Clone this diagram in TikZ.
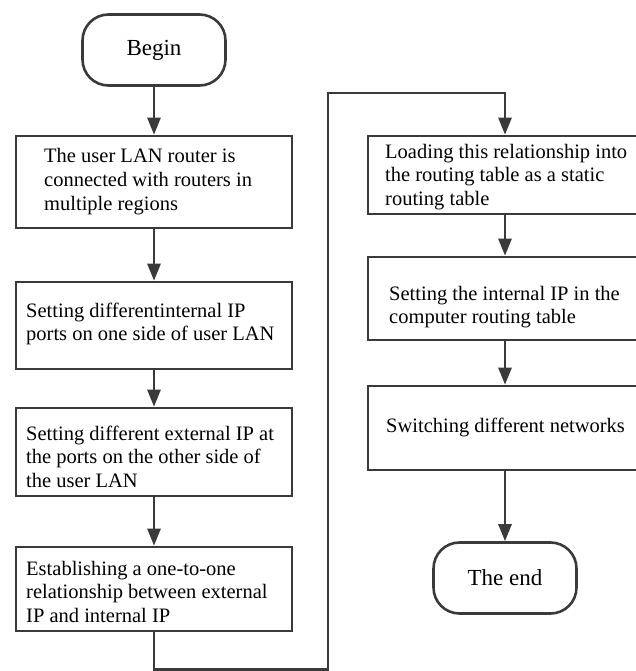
\documentclass[tikz,border=0pt]{standalone}
\usepackage{fontspec}
\setmainfont{Liberation Serif}
\usetikzlibrary{arrows.meta}
\definecolor{linegray}{HTML}{3A3A3A}
% multi-line step text, baseline of the node = baseline of the first line
\newcommand\steptext[1]{\parbox[t]{300pt}{\raggedright\fontsize{20.5pt}{23.7pt}\selectfont #1}}
\begin{document}
\begin{tikzpicture}[x=1pt,y=-1pt,
  stepbox/.style={draw=linegray, line width=2.6pt, minimum width=276pt, inner sep=0pt},
  termbox/.style={draw=linegray, line width=2.6pt, rounded corners=26pt,
    minimum width=143pt, minimum height=71pt, inner sep=0pt,
    font=\fontsize{23pt}{27pt}\selectfont},
  steptxt/.style={anchor=base west, inner sep=0pt, text=black},
  flow/.style={draw=linegray, line width=2.6pt, -{Triangle[length=17pt,width=13pt]}}]
\useasboundingbox (0,0) rectangle (636,671);
\clip (0,0) rectangle (636,671);

% left column
\node[termbox] (begin) at (154,50) {Begin};
\node[stepbox, minimum height=92pt] (b1) at (154,182) {};
\node[stepbox, minimum height=87pt] (b2) at (154,325.5) {};
\node[stepbox, minimum height=88pt] (b3) at (154,452) {};
\node[stepbox, minimum height=84pt] (b4) at (154,589) {};

% right column
\node[stepbox, minimum width=274pt, minimum height=78pt] (b5) at (505,175) {};
\node[stepbox, minimum width=274pt, minimum height=83pt] (b6) at (505,298.5) {};
\node[stepbox, minimum width=274pt, minimum height=84pt] (b7) at (505,428) {};
\node[termbox] (end) at (505,578) {The end};

% step texts
\node[steptxt] (t1) at (44,163) {\steptext{The user LAN router is\\connected with routers in\\multiple regions}};
\node[steptxt] (t2) at (26,317) {\steptext{Setting differentinternal IP\\ports on one side of user LAN}};
\node[steptxt] (t3) at (26,440) {\steptext{Setting different external IP at\\the ports on the other side of\\the user LAN}};
\node[steptxt] (t4) at (26,575) {\steptext{Establishing a one-to-one\\relationship between external\\IP and internal IP}};
\node[steptxt] (t5) at (385,158) {\steptext{Loading this relationship into\\the routing table as a static\\routing table}};
\node[steptxt] (t6) at (389,300) {\steptext{Setting the internal IP in the\\computer routing table}};
\node[steptxt] (t7) at (386,432) {\steptext{Switching different networks}};

% connectors
\coordinate (c1) at (328,669.5);
\coordinate (c2) at (328,93);
\draw[flow] (begin) -- (b1);
\draw[flow] (b1) -- (b2);
\draw[flow] (b2) -- (b3);
\draw[flow] (b3) -- (b4);
\draw[flow] (b4.south) |- (c1) -- (c2) -| (b5.north);
\draw[flow] (b5) -- (b6);
\draw[flow] (b6) -- (b7);
\draw[flow] (b7) -- (end);
\end{tikzpicture}
\end{document}
